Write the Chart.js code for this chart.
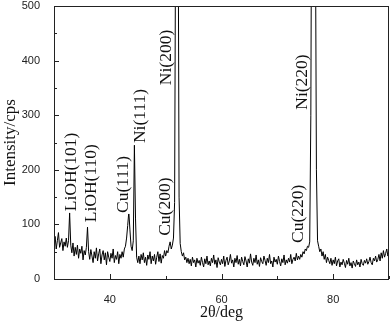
<!DOCTYPE html>
<html>
<head>
<meta charset="utf-8">
<script src="https://cdn.jsdelivr.net/npm/chart.js@4.4.0/dist/chart.umd.min.js"></script>
<style>
  html, body { margin: 0; padding: 0; background: #fff; }
  #wrap { width: 392px; height: 326px; position: relative; }
</style>
</head>
<body>
<div id="wrap"><canvas id="xrd"></canvas></div>
<script>
/* ── Data ── */

// 2θ sampling grid: 30° to 90° every 0.2°
const ANGLE_START = 30;
const ANGLE_STEP = 0.2;

// intensity (cps), one row = 2°
const intensity = [
  62, 78, 55, 70, 85, 58, 66, 74, 52, 68,      // 30
  60, 75, 58, 70, 121, 62, 48, 66, 42, 58,     // 32
  45, 62, 38, 55, 47, 60, 35, 52, 44, 58,      // 34
  95, 50, 36, 54, 42, 30, 50, 38, 57, 33,      // 36
  46, 55, 28, 44, 52, 35, 48, 26, 50, 40,      // 38
  32, 47, 38, 55, 30, 43, 36, 50, 28, 45,      // 40
  38, 50, 40, 55, 60, 75, 98, 123, 90, 60,     // 42
  52, 70, 245, 110, 40, 30, 42, 28, 45, 35,    // 44
  48, 30, 40, 25, 44, 36, 50, 28, 42, 33,      // 46
  45, 27, 40, 50, 32, 46, 29, 43, 38, 52,      // 48
  42, 52, 48, 60, 68, 55, 62, 75, 140, 700,    // 50
  1800, 800, 150, 65, 50, 42, 48, 35, 40, 30,  // 52
  38, 28, 36, 24, 40, 30, 35, 22, 38, 29,      // 54
  34, 25, 40, 30, 22, 37, 28, 42, 26, 33,      // 56
  24, 38, 30, 44, 27, 35, 21, 39, 31, 26,      // 58
  36, 28, 42, 23, 34, 40, 26, 33, 45, 29,      // 60
  35, 22, 38, 30, 43, 27, 36, 24, 40, 32,      // 62
  26, 41, 33, 22, 37, 29, 46, 31, 25, 38,      // 64
  30, 44, 27, 35, 23, 39, 32, 28, 42, 34,      // 66
  25, 38, 30, 45, 28, 33, 22, 40, 31, 36,      // 68
  27, 42, 32, 24, 37, 30, 44, 26, 35, 29,      // 70
  38, 31, 45, 28, 36, 40, 33, 47, 35, 42,      // 72
  36, 45, 40, 50, 46, 55, 52, 60, 58, 68,      // 74
  300, 900, 1500, 1200, 700, 200, 70, 60, 50, 55, // 76
  42, 50, 36, 45, 30, 40, 34, 28, 38, 25,      // 78
  35, 28, 40, 24, 33, 37, 22, 31, 26, 36,      // 80
  29, 21, 34, 27, 38, 24, 30, 20, 33, 28,      // 82
  23, 35, 26, 31, 22, 36, 28, 25, 34, 29,      // 84
  37, 27, 32, 40, 30, 26, 38, 33, 42, 31,      // 86
  36, 45, 33, 48, 38, 52, 40, 47, 55, 42,      // 88
  50                                           // 90
];

// peak labels: text, anchor 2θ, anchor intensity (bottom of rotated text)
const peakNames   = ['LiOH(101)', 'LiOH(110)', 'Cu(111)', 'Ni(111)', 'Ni(200)', 'Cu(200)', 'Ni(220)', 'Cu(220)'];
const peakAngles  = [32.87, 36.45, 42.18, 45.22, 49.88, 49.70, 74.24, 73.52];
const peakHeights = [124, 104, 121, 249, 355, 79, 310, 66];

const xTicks = [40, 60, 80];
const yTicks = [0, 100, 200, 300, 400, 500];

/* ── Plugins ── */

const frame = {
  id: 'frame',
  afterDatasetsDraw(chart) {
    const { ctx, chartArea: a, scales: { x, y } } = chart;
    ctx.save();
    ctx.strokeStyle = '#222';
    ctx.lineWidth = 1;
    ctx.strokeRect(a.left + 0.5, a.top + 0.5, a.right - a.left - 1, a.bottom - a.top);

    // inward ticks
    ctx.beginPath();
    for (let v = 0; v <= 500; v += 50) {
      const py = Math.round(y.getPixelForValue(v)) + 0.5;
      const len = v % 100 === 0 ? 5 : 3;
      ctx.moveTo(a.left, py); ctx.lineTo(a.left + len, py);
    }
    for (let v = 30; v <= 90; v += 10) {
      const px = Math.round(x.getPixelForValue(v)) + 0.5;
      const len = xTicks.includes(v) ? 5 : 3;
      ctx.moveTo(px, a.bottom); ctx.lineTo(px, a.bottom - len);
    }
    ctx.stroke();

    // rotated peak labels
    ctx.font = '17.5px "Liberation Serif", "Times New Roman", serif';
    ctx.textBaseline = 'middle';
    ctx.textAlign = 'left';
    peakNames.forEach((name, i) => {
      const px = x.getPixelForValue(peakAngles[i]);
      const py = y.getPixelForValue(peakHeights[i]);
      const w = ctx.measureText(name).width;
      ctx.save();
      ctx.translate(px, py);
      ctx.rotate(-Math.PI / 2);
      ctx.fillStyle = '#fff';
      ctx.fillRect(-1, -8, w + 2, 16);
      ctx.fillStyle = '#111';
      ctx.fillText(name, 0, 1);
      ctx.restore();
    });
    ctx.restore();
  }
};

/* ── Chart ── */

const points = intensity.map((v, i) => ({ x: ANGLE_START + i * ANGLE_STEP, y: v }));

new Chart(document.getElementById('xrd'), {
  type: 'line',
  data: {
    datasets: [{
      data: points,
      borderColor: '#000',
      borderWidth: 1,
      pointRadius: 0,
      tension: 0,
      fill: false
    }]
  },
  options: {
    responsive: true,
    maintainAspectRatio: false,
    animation: false,
    layout: { padding: { left: 0, right: 3, top: 6, bottom: 0 } },
    plugins: { legend: { display: false }, tooltip: { enabled: false } },
    scales: {
      x: {
        type: 'linear',
        min: 30, max: 90,
        afterBuildTicks: s => { s.ticks = xTicks.map(v => ({ value: v })); },
        afterFit: s => { s.height = 47; s.paddingLeft = 0; s.paddingRight = 0; },
        grid: { display: false },
        border: { display: false },
        ticks: { color: '#222', padding: 6, font: { family: '"Liberation Sans", Arial, sans-serif', size: 11 } },
        title: {
          display: true, text: '2θ/deg', color: '#111', padding: { top: 6 },
          font: { family: '"Liberation Serif", "Times New Roman", serif', size: 16 }
        }
      },
      y: {
        min: 0, max: 500,
        afterBuildTicks: s => { s.ticks = yTicks.map(v => ({ value: v })); },
        afterFit: s => { s.width = 54; s.paddingTop = 0; s.paddingBottom = 0; },
        grid: { display: false },
        border: { display: false },
        ticks: { color: '#222', padding: 6, font: { family: '"Liberation Sans", Arial, sans-serif', size: 11 } },
        title: {
          display: true, text: 'Intensity/cps', color: '#111', padding: 0,
          font: { family: '"Liberation Serif", "Times New Roman", serif', size: 17 }
        }
      }
    }
  },
  plugins: [frame]
});
</script>
</body>
</html>
